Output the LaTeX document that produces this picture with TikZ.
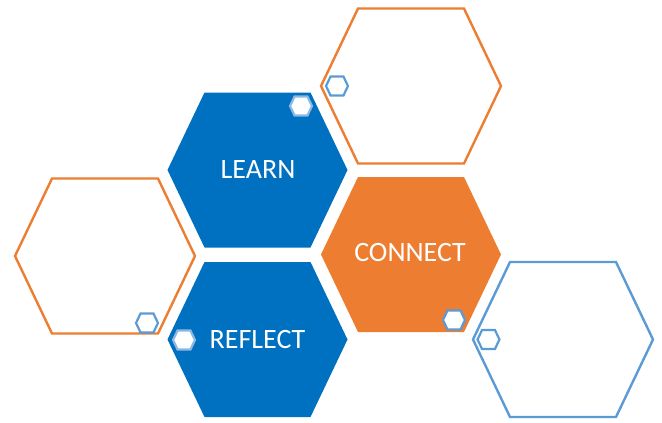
\documentclass[tikz,border=0pt]{standalone}
\usepackage{fontspec}
\setmainfont{Carlito}
\definecolor{hblue}{HTML}{0070C0}
\definecolor{horange}{HTML}{ED7D31}
\definecolor{hlblue}{HTML}{5B9BD5}
\definecolor{hpale}{HTML}{8CB8E4}
\tikzset{
  hexa/.pic={\path[pic actions] (-90,0) -- (-53,-77.5) -- (53,-77.5) -- (90,0) -- (53,77.5) -- (-53,77.5) -- cycle;},
  filledhex/.style={fill=#1, draw=none},
  outlinehex/.style={draw=#1, line width=2.4pt, fill=none, line join=miter},
  smallhex/.style={scale=0.122, draw=#1, line width=2.2pt, fill=white},
  hexlabel/.style={text=white, font=\fontsize{28}{32}\selectfont, inner sep=0pt}
}
\begin{document}
\begin{tikzpicture}[x=1pt,y=-1pt]
\useasboundingbox (0,0) rectangle (662,423);
% outline hexagons
\pic[outlinehex=horange] (tr) at (411,86) {hexa};
\pic[outlinehex=horange] (lf) at (105,256) {hexa};
\pic[outlinehex=hlblue] (br) at (563,339.5) {hexa};
% filled hexagons
\pic[filledhex=hblue] (lh) at (257.5,170) {hexa};
\pic[filledhex=hblue] (rh) at (257.5,339.5) {hexa};
\pic[filledhex=horange] (ch) at (411,254.5) {hexa};
% labels
\node[hexlabel] (learn) at (258,170) {LEARN};
\node[hexlabel] (reflect) at (257.5,339.5) {REFLECT};
\node[hexlabel] (connect) at (410,253) {CONNECT};
% small hexagons
\pic[smallhex=hpale] (s1) at (301,106) {hexa};
\pic[smallhex=hlblue] (s2) at (337,86) {hexa};
\pic[smallhex=hlblue] (s3) at (147,323) {hexa};
\pic[smallhex=hpale] (s4) at (184,340) {hexa};
\pic[smallhex=hlblue] (s5) at (454,320) {hexa};
\pic[smallhex=hlblue] (s6) at (488.5,339.5) {hexa};
\end{tikzpicture}
\end{document}
